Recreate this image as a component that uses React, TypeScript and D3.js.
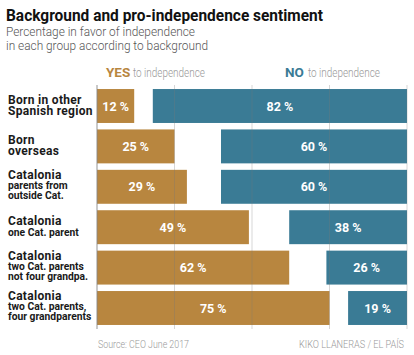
import React from "react";
import * as d3 from "d3";

const categories = [
  ["Born in other", "Spanish region"],
  ["Born", "overseas"],
  ["Catalonia", "parents from", "outside Cat."],
  ["Catalonia", "one Cat. parent"],
  ["Catalonia", "two Cat. parents", "not four grandpa."],
  ["Catalonia", "two Cat. parents,", "four grandparents"],
];
const bigLineCount = [2, 2, 1, 1, 1, 1];
const yesValues = [12, 25, 29, 49, 62, 75];
const noValues = [82, 60, 60, 38, 26, 19];
const gridTicks = [0, 25, 50, 75, 100];

const W = 414;
const H = 355;
const GOLD = "#b8863f";
const BLUE = "#3a7b95";
const FONT = "Roboto, 'Open Sans', sans-serif";

export default function App() {
  const x = d3.scaleLinear().domain([0, 100]).range([97, 407]);
  const y = d3
    .scaleBand<number>()
    .domain(d3.range(categories.length))
    .range([85.8, 328.2])
    .paddingInner(0.16)
    .paddingOuter(0.08);
  const bw = y.bandwidth();

  return (
    <svg width={W} height={H} style={{ position: "absolute", left: 0, top: 0 }} fontFamily={FONT}>
      <rect width={W} height={H} fill="#fff" />
      <text x={6} y={21} fontSize={16.5} fontWeight={700} fill="#111" textLength={317} lengthAdjust="spacingAndGlyphs">
        Background and pro-independence sentiment
      </text>
      <text x={6} y={36} fontSize={12.5} fontWeight={300} fill="#555" textLength={189} lengthAdjust="spacingAndGlyphs">
        Percentage in favor of independence
      </text>
      <text x={6} y={50} fontSize={12.5} fontWeight={300} fill="#555" textLength={202} lengthAdjust="spacingAndGlyphs">
        in each group according to background
      </text>

      <text x={106} y={77} fontSize={13.5} fontWeight={700} fill={GOLD}>YES</text>
      <text x={133} y={77} fontSize={12} fill="#999" fontWeight={300} textLength={72} lengthAdjust="spacingAndGlyphs">
        to independence
      </text>
      <text x={285} y={77} fontSize={13.5} fontWeight={700} fill={BLUE}>NO</text>
      <text x={308} y={77} fontSize={12} fill="#999" fontWeight={300} textLength={72} lengthAdjust="spacingAndGlyphs">
        to independence
      </text>

      {categories.map((lines, i) => {
        const y0 = y(i)!;
        const cy = y0 + bw / 2;
        const n = lines.length;
        const lh = n === 3 ? 10 : 11;
        return (
          <g key={i}>
            {lines.map((ln, j) => {
              const big = j < bigLineCount[i];
              return (
                <text
                  key={j}
                  x={8}
                  y={cy + (j - (n - 1) / 2) * lh + (n === 3 ? 2 : 3)}
                  fontSize={big ? 12 : 10.3}
                  fontWeight={700}
                  fill="#1a1a1a"
                  letterSpacing={big ? 0.3 : 0}
                >
                  {ln}
                </text>
              );
            })}
            <rect x={x(0)} y={y0} width={x(yesValues[i]) - x(0)} height={bw} fill={GOLD} />
            <rect x={x(100 - noValues[i])} y={y0} width={x(100) - x(100 - noValues[i])} height={bw} fill={BLUE} />
          </g>
        );
      })}

      {gridTicks.map((t) => (
        <line
          key={t}
          x1={x(t)}
          x2={x(t)}
          y1={85}
          y2={329}
          stroke={t === 0 ? "#888" : "#777"}
          strokeOpacity={t === 0 ? 0.9 : 0.3}
          strokeWidth={1}
        />
      ))}

      {categories.map((_, i) => {
        const cy = y(i)! + bw / 2 + 4.5;
        return (
          <g key={"v" + i} fontSize={12.5} fontWeight={700} fill="#fff" textAnchor="middle">
            <text x={(x(0) + x(yesValues[i])) / 2} y={cy}>{yesValues[i]} %</text>
            <text x={(x(100 - noValues[i]) + x(100)) / 2} y={cy}>{noValues[i]} %</text>
          </g>
        );
      })}

      <text x={98} y={348} fontSize={11} fill="#999" fontWeight={300} textLength={91} lengthAdjust="spacingAndGlyphs">
        Source: CEO June 2017
      </text>
      <text x={404} y={348} fontSize={11} fill="#999" fontWeight={300} textAnchor="end" textLength={105} lengthAdjust="spacingAndGlyphs">
        KIKO LLANERAS / EL PAÍS
      </text>
    </svg>
  );
}
